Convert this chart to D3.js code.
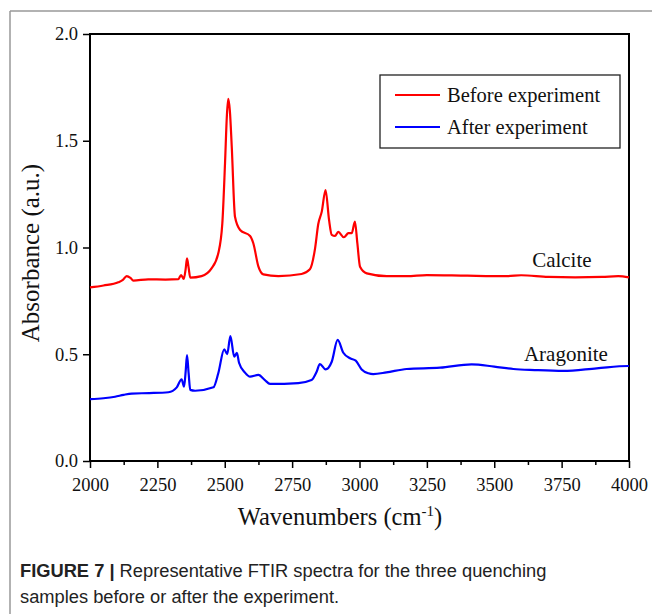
<!DOCTYPE html>
<html>
<head>
<meta charset="utf-8">
<script src="https://cdn.jsdelivr.net/npm/d3@7"></script>
<style>
  body { margin: 0; background: #fff; }
  svg { display: block; }
</style>
</head>
<body>
<svg id="chart" width="652" height="614"></svg>
<script>
// spectra (wavenumber in cm-1, absorbance)
const beforeWn = [2000, 2050, 2105, 2122, 2136, 2150, 2161, 2216, 2280, 2328, 2338, 2348, 2355, 2360, 2366, 2372,
  2414, 2451, 2476, 2491, 2501, 2508, 2513, 2519, 2526, 2538, 2557, 2594, 2606, 2625, 2643, 2699, 2785, 2816,
  2835, 2847, 2860, 2874, 2887, 2897, 2909, 2921, 2942, 2959, 2971, 2983, 2992, 3002, 3027, 3101, 3175, 3250,
  3400, 3550, 3600, 3700, 3800, 3900, 3960, 4000];
const beforeAbs = [0.813, 0.822, 0.837, 0.848, 0.866, 0.858, 0.845, 0.851, 0.850, 0.852, 0.871, 0.853, 0.900, 0.949, 0.905, 0.859,
  0.866, 0.902, 0.973, 1.113, 1.394, 1.620, 1.696, 1.640, 1.472, 1.144, 1.082, 1.054, 1.020, 0.910, 0.874, 0.866, 0.876, 0.898,
  0.995, 1.110, 1.168, 1.269, 1.129, 1.059, 1.054, 1.073, 1.048, 1.067, 1.067, 1.121, 1.020, 0.910, 0.879, 0.866, 0.866, 0.871,
  0.868, 0.866, 0.870, 0.862, 0.860, 0.862, 0.866, 0.860];

const afterWn = [2000, 2050, 2093, 2125, 2155, 2220, 2291, 2322, 2340, 2349, 2355, 2360, 2366, 2372, 2390, 2458,
  2476, 2498, 2509, 2521, 2535, 2545, 2553, 2575, 2594, 2625, 2649, 2668, 2773, 2822, 2841, 2853, 2874, 2897,
  2919, 2940, 2965, 2986, 3008, 3033, 3051, 3100, 3175, 3299, 3416, 3500, 3571, 3650, 3756, 3880, 3997, 4000];
const afterAbs = [0.290, 0.294, 0.301, 0.310, 0.316, 0.318, 0.322, 0.345, 0.383, 0.348, 0.420, 0.496, 0.410, 0.333, 0.329, 0.345,
  0.411, 0.523, 0.501, 0.585, 0.489, 0.507, 0.460, 0.414, 0.395, 0.403, 0.379, 0.361, 0.365, 0.379, 0.418, 0.454, 0.429, 0.465,
  0.567, 0.507, 0.481, 0.470, 0.429, 0.411, 0.407, 0.415, 0.431, 0.437, 0.453, 0.442, 0.431, 0.426, 0.422, 0.434, 0.445, 0.445];

const xTicks = [2000, 2250, 2500, 2750, 3000, 3250, 3500, 3750, 4000];
const yTicks = [0.0, 0.5, 1.0, 1.5, 2.0];
const seriesNames = ['Before experiment', 'After experiment'];
const seriesColors = ['#ff0000', '#0000ff'];
const sampleLabels = [
  { text: 'Calcite', wn: 3751, abs: 0.909 },
  { text: 'Aragonite', wn: 3766, abs: 0.468 }
];

const svg = d3.select('#chart');
const serif = '"Liberation Serif", "Times New Roman", serif';

// page frame (grey lines top and left)
svg.append('line').attr('x1', 10).attr('y1', 11).attr('x2', 652).attr('y2', 11)
  .attr('stroke', '#999').attr('stroke-width', 1.5);
svg.append('line').attr('x1', 10).attr('y1', 11).attr('x2', 10).attr('y2', 614)
  .attr('stroke', '#999').attr('stroke-width', 1.5);

const plotL = 90, plotR = 629, plotT = 34, plotB = 461;

const x = d3.scaleLinear().domain([2000, 4000]).range([plotL, plotR]);
const y = d3.scaleLinear().domain([0, 2]).range([plotB, plotT]);

// minor x ticks
const xMinor = d3.range(2125, 4000, 250);
svg.append('g')
  .attr('transform', `translate(0,${plotB})`)
  .call(d3.axisBottom(x).tickValues(xMinor).tickSize(4).tickFormat(''))
  .call(g => g.select('.domain').remove())
  .selectAll('line').attr('stroke', '#000').attr('stroke-width', 1.5);

const xAxis = svg.append('g')
  .attr('transform', `translate(0,${plotB})`)
  .call(d3.axisBottom(x).tickValues(xTicks).tickSize(7).tickPadding(10).tickFormat(d3.format('d')));
xAxis.select('.domain').remove();
xAxis.selectAll('line').attr('stroke', '#000').attr('stroke-width', 1.5);
xAxis.selectAll('text').attr('font-family', serif).attr('font-size', 18.5).attr('fill', '#111');

const yAxis = svg.append('g')
  .attr('transform', `translate(${plotL},0)`)
  .call(d3.axisLeft(y).tickValues(yTicks).tickSize(7).tickPadding(5).tickFormat(d3.format('.1f')));
yAxis.select('.domain').remove();
yAxis.selectAll('line').attr('stroke', '#000').attr('stroke-width', 1.5);
yAxis.selectAll('text').attr('font-family', serif).attr('font-size', 18.5).attr('fill', '#111');

// plot frame
svg.append('rect')
  .attr('x', plotL).attr('y', plotT)
  .attr('width', plotR - plotL).attr('height', plotB - plotT)
  .attr('fill', 'none').attr('stroke', '#000').attr('stroke-width', 2);

const line = d3.line()
  .x(d => x(d[0]))
  .y(d => y(d[1]))
  .curve(d3.curveMonotoneX);

const series = [
  d3.zip(beforeWn, beforeAbs),
  d3.zip(afterWn, afterAbs)
];

svg.selectAll('.spectrum')
  .data(series)
  .enter()
  .append('path')
  .classed('spectrum', true)
  .attr('d', line)
  .attr('fill', 'none')
  .attr('stroke', (d, i) => seriesColors[i])
  .attr('stroke-width', 2.2)
  .attr('stroke-linejoin', 'round');

svg.selectAll('.sample-label')
  .data(sampleLabels)
  .enter()
  .append('text')
  .classed('sample-label', true)
  .attr('x', d => x(d.wn))
  .attr('y', d => y(d.abs))
  .attr('text-anchor', 'middle')
  .attr('font-family', serif)
  .attr('font-size', 21)
  .attr('fill', '#111')
  .text(d => d.text);

// legend
const legend = svg.append('g');
legend.append('rect')
  .attr('x', 380).attr('y', 75).attr('width', 240).attr('height', 73)
  .attr('fill', '#fff').attr('stroke', '#222').attr('stroke-width', 1.3);
const items = legend.selectAll('.item')
  .data(seriesNames)
  .enter()
  .append('g')
  .attr('transform', (d, i) => `translate(0,${95 + i * 32})`);
items.append('line')
  .attr('x1', 395).attr('x2', 440)
  .attr('stroke', (d, i) => seriesColors[i]).attr('stroke-width', 2.2);
items.append('text')
  .attr('x', 447).attr('y', 7)
  .attr('font-family', serif).attr('font-size', 20.5).attr('fill', '#111')
  .text(d => d);

// axis titles
svg.append('text')
  .attr('x', 340).attr('y', 525)
  .attr('text-anchor', 'middle')
  .attr('font-family', serif).attr('font-size', 24.5).attr('fill', '#111')
  .call(t => {
    t.append('tspan').text('Wavenumbers (cm');
    t.append('tspan').attr('dy', -9).attr('font-size', 15).text('-1');
    t.append('tspan').attr('dy', 9).text(')');
  });

svg.append('text')
  .attr('transform', `translate(39,253) rotate(-90)`)
  .attr('text-anchor', 'middle')
  .attr('font-family', serif).attr('font-size', 25).attr('fill', '#111')
  .text('Absorbance (a.u.)');

// caption
const sans = '"Liberation Sans", Arial, sans-serif';
const cap1 = svg.append('text')
  .attr('x', 20).attr('y', 577)
  .attr('font-family', sans).attr('font-size', 18.3).attr('fill', '#222');
cap1.append('tspan').attr('font-weight', 'bold').text('FIGURE 7 | ');
cap1.append('tspan').text('Representative FTIR spectra for the three quenching');
svg.append('text')
  .attr('x', 20).attr('y', 603)
  .attr('font-family', sans).attr('font-size', 18.3).attr('fill', '#222')
  .text('samples before or after the experiment.');
</script>
</body>
</html>
